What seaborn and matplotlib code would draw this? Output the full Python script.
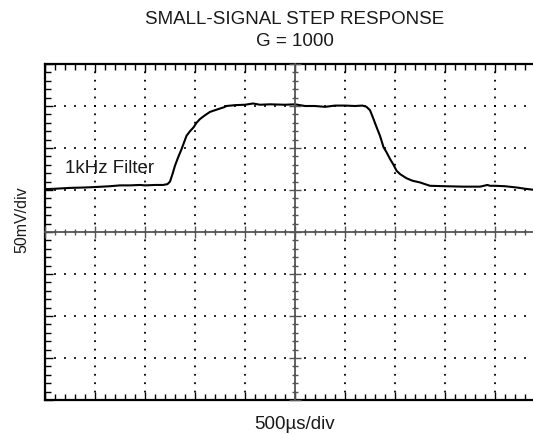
import matplotlib
matplotlib.use("Agg")
import matplotlib.pyplot as plt
from matplotlib.ticker import MultipleLocator
import seaborn as sns

# trace, in divisions (x: 500us/div, y: 50mV/div)
time_div = [0.0, 0.2, 0.5, 0.8, 1.0, 1.3, 1.5, 1.7, 1.9, 2.0, 2.2, 2.36,
            2.45, 2.5, 2.55, 2.6, 2.67, 2.73, 2.78, 2.83, 2.9, 2.97, 3.03,
            3.1, 3.2, 3.3, 3.4, 3.5, 3.58, 3.63, 3.8, 4.0, 4.16, 4.3, 4.5,
            4.8, 5.0, 5.2, 5.4, 5.6, 5.8, 6.0, 6.2, 6.35, 6.43, 6.5, 6.57,
            6.63, 6.7, 6.77, 6.83, 6.9, 6.97, 7.03, 7.1, 7.23, 7.35, 7.5,
            7.7, 8.0, 8.36, 8.7, 8.85, 8.9, 9.0, 9.2, 9.43, 9.6, 9.8]
level_div = [5.02, 5.03, 5.05, 5.06, 5.07, 5.09, 5.11, 5.11, 5.12, 5.11, 5.12, 5.12,
             5.14, 5.2, 5.38, 5.58, 5.8, 5.97, 6.13, 6.29, 6.4, 6.49, 6.6,
             6.69, 6.78, 6.86, 6.9, 6.94, 6.97, 7.0, 7.02, 7.03, 7.06, 7.03, 7.04,
             7.03, 7.04, 7.0, 7.0, 6.98, 7.01, 7.01, 7.0, 7.01, 6.98, 6.9, 6.69,
             6.5, 6.29, 6.02, 5.9, 5.74, 5.6, 5.46, 5.38, 5.28, 5.22, 5.18,
             5.1, 5.09, 5.08, 5.08, 5.12, 5.1, 5.1, 5.09, 5.06, 5.03, 5.0]

n_xdiv = 10
n_ydiv = 8

sns.set_style("white")
plt.rcParams['font.family'] = ['Liberation Sans', 'DejaVu Sans']
plt.rcParams['lines.scale_dashes'] = False

W, H = 533, 435
fig = plt.figure(figsize=(W / 100, H / 100), dpi=100)
rect = [45 / W, 34 / H, 500 / W, 336 / H]
ax = fig.add_axes(rect)

sns.lineplot(x=time_div, y=level_div, ax=ax, color='black', linewidth=1.5,
             estimator=None)

ax.set_xlim(0, n_xdiv)
ax.set_ylim(0, n_ydiv)
ax.xaxis.set_major_locator(MultipleLocator(1))
ax.yaxis.set_major_locator(MultipleLocator(1))
ax.xaxis.set_minor_locator(MultipleLocator(0.2))
ax.yaxis.set_minor_locator(MultipleLocator(0.2))

# dotted graticule, one dot every 0.2 div
ax.xaxis.grid(True, which='major', color='black', linewidth=1.3,
              linestyle=(0.65, (1.3, 4.75)))
ax.yaxis.grid(True, which='major', color='black', linewidth=1.3,
              linestyle=(0.65, (1.3, 5.9)))

for s in ['left', 'top', 'bottom']:
    ax.spines[s].set_linewidth(1.6)
    ax.spines[s].set_color('black')
ax.spines['right'].set_visible(False)
ax.tick_params(which='both', direction='in', top=True, bottom=True, left=True,
               right=False, labelbottom=False, labelleft=False,
               color='black', width=1)
ax.tick_params(which='major', length=6)
ax.tick_params(which='minor', length=4)
ax.set_xlabel('')
ax.set_ylabel('')

# centre crosshair with its own ticks
ax2 = fig.add_axes(rect, facecolor='none')
ax2.set_xlim(0, n_xdiv)
ax2.set_ylim(0, n_ydiv)
ax2.spines['left'].set_position(('data', n_xdiv / 2))
ax2.spines['bottom'].set_position(('data', n_ydiv / 2))
ax2.spines['top'].set_visible(False)
ax2.spines['right'].set_visible(False)
for s in ['left', 'bottom']:
    ax2.spines[s].set_color('#555555')
    ax2.spines[s].set_linewidth(1.3)
ax2.xaxis.set_major_locator(MultipleLocator(1))
ax2.yaxis.set_major_locator(MultipleLocator(1))
ax2.xaxis.set_minor_locator(MultipleLocator(0.2))
ax2.yaxis.set_minor_locator(MultipleLocator(0.2))
ax2.tick_params(which='both', direction='inout', bottom=True, left=True,
                top=False, right=False, color='#555555', width=1,
                labelbottom=False, labelleft=False)
ax2.tick_params(which='major', length=8)
ax2.tick_params(which='minor', length=4.5)

ax.text(0.4, 5.54, '1kHz Filter', fontsize=13.5, color='#1a1a1a',
        ha='left', va='center', zorder=5)

cx = 295 / W
fig.text(cx, 1 - 19 / H, 'SMALL-SIGNAL STEP RESPONSE', fontsize=13.5,
         color='#1a1a1a', ha='center', va='center')
fig.text(cx, 1 - 42 / H, 'G = 1000', fontsize=13.5, color='#1a1a1a',
         ha='center', va='center')
fig.text(cx, 1 - 425 / H, '500µs/div', fontsize=13.5, color='#1a1a1a',
         ha='center', va='center')
fig.text(21.5 / W, 1 - 219.5 / H, '50mV/div', fontsize=11.5, color='#1a1a1a',
         ha='center', va='center', rotation=90)

fig.savefig('out.png', dpi=100)
